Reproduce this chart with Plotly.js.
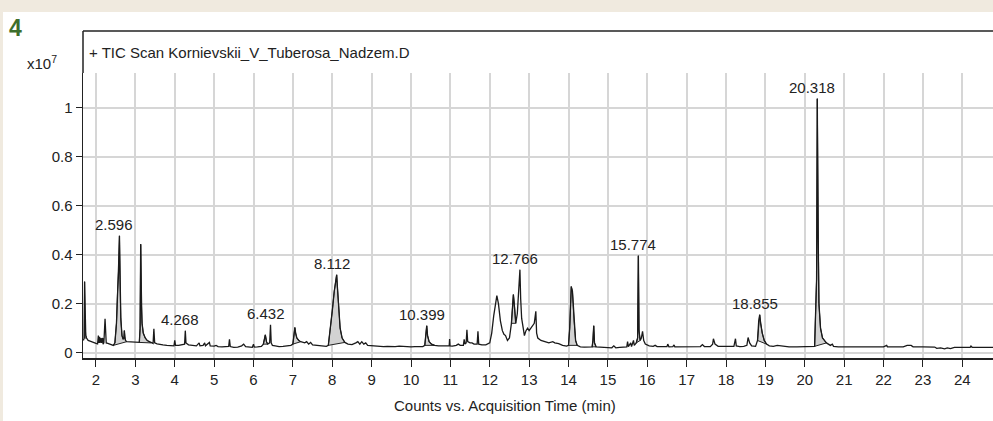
<!DOCTYPE html>
<html>
<head>
<meta charset="utf-8">
<script src="https://cdn.plot.ly/plotly-3.0.1.min.js"></script>
<style>
  html, body { margin: 0; padding: 0; background: #f0eadf; }
  #chart { width: 993px; height: 421px; }
</style>
</head>
<body>
<div id="chart"></div>
<script>
// Acquisition time (min)
const T = [
  1.68, 1.70, 1.71, 1.72, 1.74, 1.76, 1.80, 1.85, 1.90, 1.95,
  2.00, 2.04, 2.06, 2.07, 2.09, 2.10, 2.13, 2.14, 2.17, 2.18,
  2.20, 2.23, 2.24, 2.26, 2.30, 2.35, 2.40, 2.44, 2.48, 2.52,
  2.55, 2.575, 2.596, 2.61, 2.63, 2.66, 2.69, 2.71, 2.72, 2.735,
  2.75, 2.78, 2.85, 2.95, 3.05, 3.10, 3.12, 3.135, 3.15, 3.17,
  3.20, 3.25, 3.30, 3.35, 3.40, 3.45, 3.47, 3.49, 3.55, 3.60,
  3.70, 3.80, 3.90, 3.98, 4.00, 4.02, 4.10, 4.20, 4.25, 4.268,
  4.285, 4.35, 4.45, 4.55, 4.62, 4.64, 4.72, 4.76, 4.78, 4.88,
  4.90, 5.00, 5.05, 5.10, 5.20, 5.30, 5.37, 5.39, 5.41, 5.50,
  5.60, 5.70, 5.75, 5.80, 5.90, 5.97, 6.00, 6.02, 6.10, 6.20,
  6.25, 6.28, 6.30, 6.33, 6.36, 6.41, 6.432, 6.45, 6.48, 6.55,
  6.65, 6.75, 6.85, 6.95, 7.00, 7.03, 7.05, 7.07, 7.10, 7.15,
  7.20, 7.30, 7.35, 7.40, 7.45, 7.50, 7.60, 7.70, 7.80, 7.85,
  7.90, 7.95, 8.00, 8.05, 8.085, 8.112, 8.13, 8.16, 8.20, 8.25,
  8.32, 8.40, 8.50, 8.60, 8.65, 8.70, 8.75, 8.80, 8.85, 8.90,
  9.00, 9.10, 9.20, 9.30, 9.40, 9.50, 9.60, 9.70, 9.80, 9.90,
  10.00, 10.10, 10.20, 10.30, 10.35, 10.38, 10.399, 10.42, 10.46, 10.52,
  10.60, 10.70, 10.80, 10.90, 10.97, 10.98, 10.99, 11.05, 11.15, 11.20,
  11.25, 11.33, 11.35, 11.37, 11.40, 11.42, 11.44, 11.50, 11.55, 11.60,
  11.68, 11.70, 11.72, 11.80, 11.90, 12.00, 12.05, 12.10, 12.15, 12.18,
  12.22, 12.27, 12.32, 12.36, 12.40, 12.45, 12.50, 12.55, 12.60, 12.63,
  12.66, 12.70, 12.74, 12.766, 12.785, 12.81, 12.85, 12.88, 12.92, 12.96,
  13.00, 13.05, 13.10, 13.13, 13.17, 13.19, 13.22, 13.30, 13.40, 13.50,
  13.60, 13.65, 13.75, 13.85, 13.95, 14.00, 14.03, 14.07, 14.10, 14.14,
  14.18, 14.22, 14.30, 14.40, 14.50, 14.60, 14.62, 14.64, 14.66, 14.70,
  14.80, 14.90, 15.00, 15.10, 15.15, 15.20, 15.30, 15.40, 15.48, 15.50,
  15.52, 15.58, 15.60, 15.65, 15.67, 15.72, 15.755, 15.774, 15.79, 15.82,
  15.85, 15.88, 15.91, 15.95, 16.05, 16.15, 16.20, 16.25, 16.40, 16.50,
  16.52, 16.55, 16.65, 16.68, 16.70, 16.80, 17.00, 17.20, 17.35, 17.40,
  17.45, 17.60, 17.66, 17.68, 17.72, 17.80, 17.95, 18.10, 18.20, 18.24,
  18.26, 18.35, 18.45, 18.53, 18.56, 18.60, 18.65, 18.75, 18.80, 18.83,
  18.855, 18.88, 18.92, 18.97, 19.03, 19.10, 19.20, 19.30, 19.38, 19.45,
  19.60, 19.80, 20.00, 20.20, 20.25, 20.30, 20.318, 20.335, 20.36, 20.40,
  20.45, 20.55, 20.65, 20.70, 20.73, 20.85, 21.00, 21.50, 22.00, 22.08,
  22.10, 22.50, 22.60, 22.70, 22.75, 23.00, 23.30, 23.35, 23.45, 23.55,
  23.62, 23.70, 23.80, 24.00, 24.20, 24.22, 24.25, 24.50, 24.80
];
// TIC counts (x10^7)
const S = [
  0.050, 0.060, 0.290, 0.120, 0.070, 0.060, 0.050, 0.047, 0.043, 0.040,
  0.038, 0.036, 0.070, 0.040, 0.065, 0.040, 0.060, 0.040, 0.060, 0.035,
  0.040, 0.138, 0.050, 0.040, 0.038, 0.035, 0.032, 0.030, 0.040, 0.120,
  0.250, 0.330, 0.477, 0.300, 0.140, 0.070, 0.055, 0.060, 0.090, 0.060,
  0.050, 0.045, 0.044, 0.042, 0.040, 0.042, 0.100, 0.443, 0.200, 0.120,
  0.080, 0.060, 0.050, 0.045, 0.040, 0.038, 0.098, 0.040, 0.036, 0.034,
  0.032, 0.030, 0.030, 0.028, 0.050, 0.030, 0.030, 0.032, 0.035, 0.090,
  0.040, 0.032, 0.030, 0.028, 0.040, 0.028, 0.030, 0.040, 0.028, 0.042,
  0.028, 0.027, 0.030, 0.025, 0.024, 0.025, 0.026, 0.055, 0.025, 0.022,
  0.023, 0.028, 0.035, 0.025, 0.022, 0.022, 0.035, 0.023, 0.024, 0.026,
  0.035, 0.060, 0.073, 0.045, 0.035, 0.040, 0.114, 0.040, 0.030, 0.028,
  0.025, 0.026, 0.028, 0.030, 0.035, 0.070, 0.103, 0.080, 0.060, 0.050,
  0.045, 0.040, 0.045, 0.035, 0.042, 0.032, 0.030, 0.028, 0.027, 0.026,
  0.030, 0.090, 0.170, 0.250, 0.290, 0.318, 0.270, 0.170, 0.100, 0.060,
  0.042, 0.035, 0.033, 0.040, 0.045, 0.035, 0.045, 0.035, 0.040, 0.030,
  0.028, 0.027, 0.026, 0.025, 0.026, 0.024, 0.025, 0.027, 0.025, 0.024,
  0.024, 0.025, 0.024, 0.025, 0.030, 0.070, 0.110, 0.070, 0.045, 0.035,
  0.030, 0.028, 0.027, 0.026, 0.028, 0.056, 0.028, 0.027, 0.030, 0.035,
  0.030, 0.030, 0.055, 0.035, 0.040, 0.094, 0.045, 0.040, 0.040, 0.035,
  0.035, 0.087, 0.035, 0.032, 0.032, 0.040, 0.080, 0.150, 0.210, 0.233,
  0.200, 0.130, 0.090, 0.075, 0.070, 0.050, 0.060, 0.120, 0.237, 0.190,
  0.120, 0.160, 0.250, 0.339, 0.220, 0.140, 0.100, 0.070, 0.090, 0.100,
  0.090, 0.100, 0.110, 0.120, 0.169, 0.080, 0.060, 0.050, 0.045, 0.040,
  0.045, 0.040, 0.037, 0.030, 0.027, 0.030, 0.100, 0.270, 0.250, 0.130,
  0.050, 0.030, 0.024, 0.023, 0.023, 0.024, 0.050, 0.110, 0.040, 0.024,
  0.023, 0.022, 0.022, 0.020, 0.028, 0.020, 0.022, 0.023, 0.024, 0.045,
  0.025, 0.040, 0.025, 0.050, 0.030, 0.040, 0.060, 0.396, 0.090, 0.050,
  0.060, 0.087, 0.050, 0.035, 0.028, 0.026, 0.030, 0.025, 0.024, 0.025,
  0.035, 0.024, 0.025, 0.032, 0.024, 0.024, 0.024, 0.024, 0.025, 0.033,
  0.025, 0.025, 0.035, 0.057, 0.035, 0.026, 0.025, 0.025, 0.026, 0.057,
  0.028, 0.025, 0.026, 0.030, 0.062, 0.040, 0.028, 0.026, 0.050, 0.130,
  0.155, 0.120, 0.080, 0.050, 0.035, 0.028, 0.026, 0.030, 0.028, 0.025,
  0.024, 0.024, 0.024, 0.024, 0.026, 0.300, 1.037, 0.500, 0.200, 0.100,
  0.060, 0.040, 0.030, 0.035, 0.026, 0.024, 0.024, 0.024, 0.024, 0.030,
  0.024, 0.024, 0.030, 0.030, 0.024, 0.024, 0.023, 0.018, 0.020, 0.016,
  0.020, 0.017, 0.022, 0.022, 0.022, 0.027, 0.022, 0.022, 0.022
];
// Integrated (shaded) peak windows
const fillStart = [1.70, 2.44, 3.10, 6.25, 7.00, 7.90, 10.35, 12.55, 14.00, 14.60, 15.72, 18.80, 20.25];
const fillEnd   = [1.76, 2.78, 3.40, 6.36, 7.20, 8.32, 10.60, 12.66, 14.22, 14.70, 15.82, 19.03, 20.55];
// Labelled retention times
const peakTimes = [2.596, 4.268, 6.432, 8.112, 10.399, 12.766, 15.774, 18.855, 20.318];
const yTickVals = [0, 0.2, 0.4, 0.6, 0.8, 1];
const yTickText = ['0', '0.2', '0.4', '0.6', '0.8', '1'];

const traces = [];
for (let k = 0; k < fillStart.length; k++) {
  const xs = [], ys = [];
  for (let i = 0; i < T.length; i++) {
    if (T[i] >= fillStart[k] - 1e-9 && T[i] <= fillEnd[k] + 1e-9) { xs.push(T[i]); ys.push(S[i]); }
  }
  xs.push(xs[0]); ys.push(ys[0]);
  traces.push({
    x: xs, y: ys, type: 'scatter', mode: 'lines', fill: 'toself',
    fillcolor: '#d2d2d2', line: { color: '#222', width: 1 }, hoverinfo: 'skip'
  });
}
traces.push({
  x: T, y: S, type: 'scatter', mode: 'lines',
  line: { color: '#1a1a1a', width: 1.3 }
});

const annotations = peakTimes.map(function (pt) {
  const i = T.indexOf(pt);
  return {
    x: pt, y: S[i], xref: 'x', yref: 'y', text: pt.toFixed(3),
    showarrow: false, xanchor: 'center', yanchor: 'bottom', xshift: -5, yshift: 1,
    font: { size: 15, color: '#222' }
  };
});

// frame geometry in paper units
const L = 83, R = 993, TOP = 73, BOT = 358;
const pw = R - L, ph = BOT - TOP;
const px = v => (v - L) / pw;
const py = v => (BOT - v) / ph;

annotations.push(
  { xref: 'paper', yref: 'paper', x: px(87), y: py(52), xanchor: 'left', yanchor: 'middle', showarrow: false,
    text: '+ TIC Scan Kornievskii_V_Tuberosa_Nadzem.D', font: { size: 15, color: '#222' } },
  { xref: 'paper', yref: 'paper', x: px(25), y: py(62), xanchor: 'left', yanchor: 'middle', showarrow: false,
    text: 'x10<sup>7</sup>', font: { size: 15, color: '#222' } },
  { xref: 'paper', yref: 'paper', x: px(505), y: py(405), xanchor: 'center', yanchor: 'middle', showarrow: false,
    text: 'Counts vs. Acquisition Time (min)', font: { size: 15, color: '#222' } },
  { xref: 'paper', yref: 'paper', x: px(7), y: py(28), xanchor: 'left', yanchor: 'middle', showarrow: false,
    text: '<b>4</b>', font: { size: 23, color: '#3d6e2c' } }
);

const shapes = [
  { type: 'rect', xref: 'paper', yref: 'paper', x0: px(3), x1: px(1000), y0: py(430), y1: py(12),
    fillcolor: '#ffffff', line: { width: 0 }, layer: 'below' },
  { type: 'line', xref: 'paper', yref: 'paper', x0: px(83), x1: px(1000), y0: py(31), y1: py(31),
    line: { color: '#222', width: 1.5 } },
  { type: 'line', xref: 'paper', yref: 'paper', x0: 0, x1: 0, y0: 1, y1: py(31),
    line: { color: '#222', width: 1.5 } }
];

const layout = {
  width: 993, height: 421,
  margin: { l: L, r: 993 - R, t: TOP, b: 421 - BOT, pad: 0 },
  paper_bgcolor: '#f0eadf', plot_bgcolor: '#ffffff',
  showlegend: false,
  font: { family: 'Liberation Sans, Arial, sans-serif', size: 15, color: '#222' },
  xaxis: {
    range: [1.67, 24.78], tick0: 0, dtick: 1, ticks: 'outside', ticklen: 7, tickwidth: 1, tickcolor: '#222',
    showline: true, linewidth: 2, linecolor: '#222', showgrid: true, gridcolor: '#d6d6d6', gridwidth: 2,
    zeroline: false, fixedrange: true
  },
  yaxis: {
    range: [-0.0216, 1.1417], tickvals: yTickVals, ticktext: yTickText, ticks: 'outside', ticklen: 6, tickwidth: 1,
    tickcolor: '#222', showline: true, linewidth: 1.5, linecolor: '#222', showgrid: true, gridcolor: '#d6d6d6',
    gridwidth: 2, zeroline: false, fixedrange: true
  },
  annotations: annotations,
  shapes: shapes
};

Plotly.newPlot('chart', traces, layout, { staticPlot: true, displayModeBar: false });
</script>
</body>
</html>
